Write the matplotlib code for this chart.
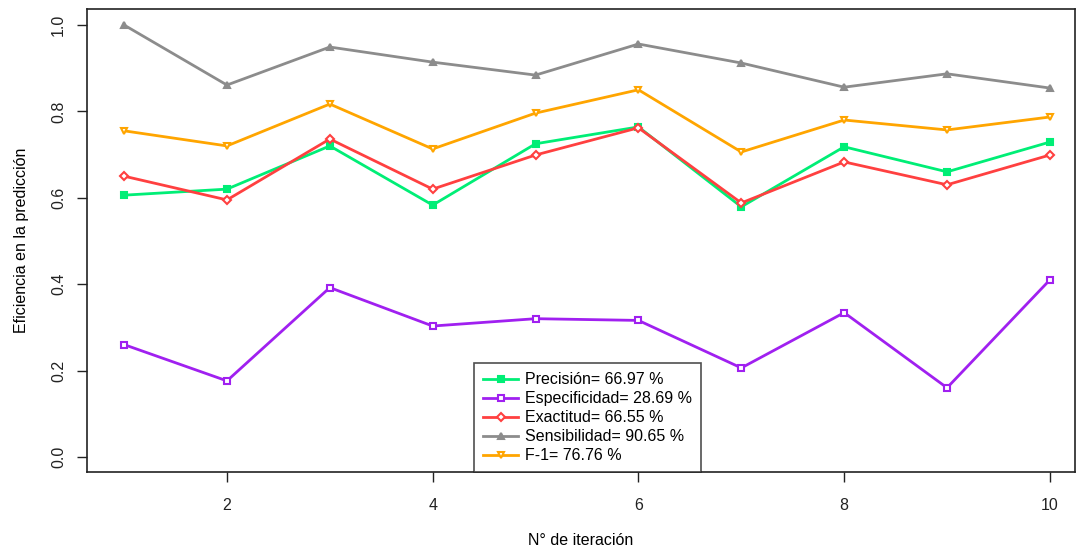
import numpy as np
import matplotlib
matplotlib.use('Agg')
import matplotlib.pyplot as plt

plt.rcParams['font.family'] = ['Liberation Sans', 'DejaVu Sans']

iteracion = np.arange(1, 11)
precision = [0.606, 0.620, 0.720, 0.583, 0.725, 0.764, 0.579, 0.718, 0.660, 0.729]
especificidad = [0.260, 0.176, 0.392, 0.303, 0.320, 0.316, 0.206, 0.334, 0.160, 0.410]
exactitud = [0.650, 0.595, 0.736, 0.620, 0.699, 0.762, 0.588, 0.683, 0.630, 0.699]
sensibilidad = [1.000, 0.861, 0.949, 0.914, 0.884, 0.956, 0.912, 0.856, 0.887, 0.854]
f1 = [0.755, 0.720, 0.817, 0.713, 0.796, 0.850, 0.706, 0.780, 0.757, 0.787]

etiquetas = ['Precisión= 66.97 %', 'Especificidad= 28.69 %', 'Exactitud= 66.55 %',
             'Sensibilidad= 90.65 %', 'F-1= 76.76 %']
colores = ['#00EE76', '#A020F0', '#FF4040', '#8C8C8C', '#FFA500']
marcadores = ['s', 's', 'D', '^', 'v']
rellenos = [True, False, False, True, False]

fig = plt.figure(figsize=(10.8, 5.5), dpi=100)
ax = fig.add_axes([0.0806, 0.1418, 0.9144, 0.8418])

series = [precision, especificidad, exactitud, sensibilidad, f1]
for ys, lab, c, m, filled in zip(series, etiquetas, colores, marcadores, rellenos):
    ax.plot(iteracion, ys, color=c, lw=2, marker=m, ms=4.5, mew=1.5,
            mfc=c if filled else 'white', mec=c, label=lab)

ax.set_xlim(0.64, 10.24)
ax.set_ylim(-0.035, 1.037)
ax.set_xticks([2, 4, 6, 8, 10])
ax.set_yticks([0.0, 0.2, 0.4, 0.6, 0.8, 1.0])
ax.set_yticklabels(['0.0', '0.2', '0.4', '0.6', '0.8', '1.0'], rotation=90, va='center')
ax.tick_params(direction='out', length=7, width=1, labelsize=11.5, colors='#222222')
ax.tick_params(axis='x', pad=12)
ax.tick_params(axis='y', pad=8)
for s in ax.spines.values():
    s.set_linewidth(1.2)
    s.set_color('#222222')

ax.set_xlabel('N° de iteración', fontsize=11.5, labelpad=14)
ax.set_ylabel('Eficiencia en la predicción', fontsize=11.5, labelpad=16)

leg = ax.legend(loc='lower left', bbox_to_anchor=(0.392, 0.0), fontsize=11.5,
                frameon=True, fancybox=False, edgecolor='#222222', borderpad=0.55,
                labelspacing=0.25, handlelength=2.2, handletextpad=0.45, borderaxespad=0,
                handleheight=0.7)
leg.get_frame().set_linewidth(1.2)

fig.savefig('out.png', dpi=100)
